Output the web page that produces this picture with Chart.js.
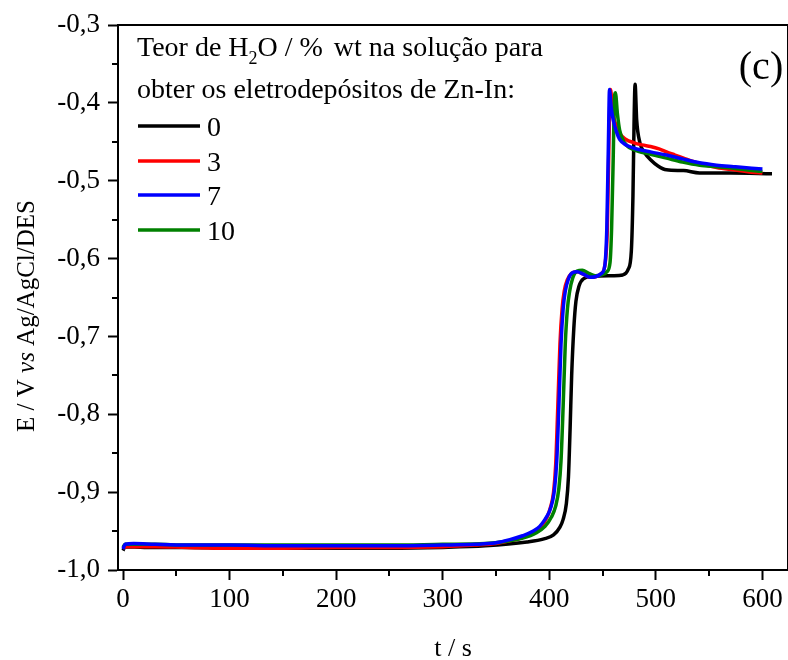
<!DOCTYPE html>
<html>
<head>
<meta charset="utf-8">
<script src="https://cdn.jsdelivr.net/npm/chart.js@4"></script>
<style>
  html, body { margin: 0; padding: 0; background: #fff; }
  #wrap { width: 788px; height: 660px; }
</style>
</head>
<body>
<div id="wrap"><canvas id="grafica" width="788" height="660"></canvas></div>
<script>
// series: teor de H2O (% wt)
const rotulos = ["0", "3", "7", "10"];
const cores = ["#000000", "#ff0000", "#0000ff", "#008000"];

const t0 = [0, 2, 20, 60, 100, 150, 200, 250, 300, 340, 379, 395, 404, 410, 413, 416, 418, 419.5, 421, 423, 425, 428, 432, 441, 460, 469, 474, 477, 478.5, 479.5, 480.5, 482, 485, 490, 495, 502, 510, 526, 541, 570, 609];
const e0 = [-0.975, -0.970, -0.971, -0.971, -0.972, -0.972, -0.972, -0.972, -0.971, -0.969, -0.964, -0.960, -0.955, -0.945, -0.935, -0.915, -0.880, -0.820, -0.750, -0.690, -0.655, -0.635, -0.626, -0.623, -0.622, -0.621, -0.614, -0.590, -0.520, -0.430, -0.376, -0.422, -0.451, -0.465, -0.473, -0.481, -0.486, -0.487, -0.490, -0.490, -0.491];

const t3 = [0, 3, 30, 60, 100, 150, 200, 250, 300, 330, 350, 365, 377, 387, 393, 398, 401, 404, 406, 408, 410, 412, 414, 417, 421, 426, 432, 438, 444, 449, 452, 454.5, 456, 457.5, 459, 461, 466, 472, 479, 487, 495, 503, 510, 518, 526, 534, 541, 557, 573, 590, 600];
const e3 = [-0.972, -0.970, -0.970, -0.971, -0.972, -0.972, -0.971, -0.971, -0.970, -0.968, -0.966, -0.962, -0.957, -0.950, -0.943, -0.932, -0.920, -0.900, -0.865, -0.790, -0.710, -0.665, -0.642, -0.627, -0.619, -0.617, -0.620, -0.624, -0.623, -0.619, -0.610, -0.560, -0.450, -0.383, -0.405, -0.422, -0.439, -0.447, -0.451, -0.454, -0.456, -0.459, -0.463, -0.467, -0.471, -0.475, -0.478, -0.483, -0.486, -0.489, -0.490];

const t7 = [0, 2, 10, 30, 60, 100, 150, 200, 250, 300, 330, 350, 363, 375, 385, 391, 396, 400, 403, 405, 407, 409, 411, 413, 415, 418, 422, 426, 432, 438, 444, 449, 452, 454, 455.5, 456.5, 458, 460, 463, 466, 472, 479, 495, 510, 525, 541, 557, 573, 590, 600];
const e7 = [-0.973, -0.967, -0.966, -0.967, -0.968, -0.968, -0.969, -0.969, -0.969, -0.968, -0.967, -0.965, -0.961, -0.956, -0.950, -0.944, -0.935, -0.925, -0.912, -0.895, -0.860, -0.790, -0.710, -0.665, -0.642, -0.626, -0.618, -0.617, -0.620, -0.624, -0.623, -0.619, -0.610, -0.560, -0.450, -0.383, -0.405, -0.422, -0.437, -0.447, -0.454, -0.458, -0.463, -0.467, -0.472, -0.477, -0.480, -0.482, -0.484, -0.485];

const t10 = [0, 2, 30, 60, 100, 150, 200, 250, 300, 340, 360, 375, 388, 396, 402, 406, 409, 411, 413, 415, 417, 419, 422, 426, 431, 437, 443, 449, 454, 457, 458.5, 460, 461, 462, 464, 466, 470, 479, 495, 510, 525, 541, 557, 573, 590, 600];
const e10 = [-0.971, -0.967, -0.967, -0.968, -0.968, -0.968, -0.968, -0.968, -0.967, -0.966, -0.963, -0.959, -0.952, -0.944, -0.932, -0.918, -0.895, -0.860, -0.790, -0.710, -0.665, -0.643, -0.625, -0.616, -0.615, -0.619, -0.622, -0.621, -0.617, -0.605, -0.560, -0.470, -0.400, -0.387, -0.415, -0.435, -0.450, -0.460, -0.466, -0.471, -0.476, -0.480, -0.482, -0.484, -0.487, -0.488];

const tempos = [t0, t3, t7, t10];
const potenciais = [e0, e3, e7, e10];

// ticks
const ticksX = [0, 100, 200, 300, 400, 500, 600];
const menoresX = [50, 150, 250, 350, 450, 550];
const menoresY = [-0.95, -0.85, -0.75, -0.65, -0.55, -0.45, -0.35];

const fonte = "'Liberation Serif', 'Times New Roman', serif";
const ordemDesenho = [3, 2, 0, 1]; // azul por cima

const datasets = rotulos.map((r, i) => ({
  label: r,
  data: tempos[i].map((t, j) => ({ x: t, y: potenciais[i][j] })),
  borderColor: cores[i],
  backgroundColor: cores[i],
  borderWidth: 3.5,
  pointRadius: 0,
  cubicInterpolationMode: "monotone",
  order: ordemDesenho[i]
}));

// moldura, ticks menores, titulos e legenda
const extras = {
  id: "extras",
  afterDraw(chart) {
    const { ctx, chartArea: a, scales: { x, y } } = chart;
    ctx.save();
    ctx.strokeStyle = "#000";
    ctx.lineWidth = 2;
    ctx.beginPath();
    ctx.moveTo(a.left, a.top);
    ctx.lineTo(a.right, a.top);
    ctx.lineTo(a.right, a.bottom);
    menoresX.forEach(v => {
      const px = Math.round(x.getPixelForValue(v));
      ctx.moveTo(px, a.bottom);
      ctx.lineTo(px, a.bottom + 6);
    });
    menoresY.forEach(v => {
      const py = Math.round(y.getPixelForValue(v));
      ctx.moveTo(a.left, py);
      ctx.lineTo(a.left - 6, py);
    });
    ctx.stroke();

    ctx.fillStyle = "#000";
    ctx.textBaseline = "alphabetic";

    // titulo eixo x
    ctx.font = "26px " + fonte;
    ctx.textAlign = "center";
    ctx.fillText("t / s", (a.left + a.right) / 2, 656);

    // titulo eixo y com "vs" em italico
    const partes = [["E / V ", "25px "], ["vs", "italic 25px "], [" Ag/AgCl/DES", "25px "]];
    let total = 0;
    partes.forEach(p => { ctx.font = p[1] + fonte; total += ctx.measureText(p[0]).width; });
    ctx.save();
    ctx.translate(34, 316);
    ctx.rotate(-Math.PI / 2);
    ctx.textAlign = "left";
    let cx = -total / 2;
    partes.forEach(p => {
      ctx.font = p[1] + fonte;
      ctx.fillText(p[0], cx, 0);
      cx += ctx.measureText(p[0]).width;
    });
    ctx.restore();

    // (c)
    ctx.font = "40px " + fonte;
    ctx.textAlign = "center";
    ctx.fillText("(c)", 761, 79);

    // legenda
    ctx.textAlign = "left";
    ctx.font = "28px " + fonte;
    let lx = 137;
    ctx.fillText("Teor de H", lx, 56);
    lx += ctx.measureText("Teor de H").width;
    ctx.font = "18px " + fonte;
    ctx.fillText("2", lx, 64);
    lx += ctx.measureText("2").width;
    ctx.font = "28px " + fonte;
    ctx.fillText("O / %", lx, 56);
    lx += ctx.measureText("O / %").width + 11;
    ctx.fillText("wt na solução para", lx, 56);
    ctx.fillText("obter os eletrodepósitos de Zn-In:", 137, 98);

    const linhasY = [126, 161, 195, 230];
    chart.data.datasets.forEach((ds, i) => {
      ctx.strokeStyle = ds.borderColor;
      ctx.lineWidth = 3.5;
      ctx.beginPath();
      ctx.moveTo(138, linhasY[i]);
      ctx.lineTo(200, linhasY[i]);
      ctx.stroke();
      ctx.fillStyle = "#000";
      ctx.fillText(ds.label, 207, linhasY[i] + 10);
    });
    ctx.restore();
  }
};

const grafica = new Chart(document.getElementById("grafica"), {
  type: "line",
  data: { datasets },
  options: {
    responsive: false,
    animation: false,
    layout: { padding: { top: 25, right: 0, bottom: 0, left: 0 } },
    plugins: { legend: { display: false }, tooltip: { enabled: false } },
    scales: {
      x: {
        type: "linear",
        min: -4.7,
        max: 624,
        afterBuildTicks: s => { s.ticks = ticksX.map(v => ({ value: v })); },
        afterFit: s => { s.height = 90; },
        border: { color: "#000", width: 2 },
        grid: { drawOnChartArea: false, tickLength: 10, tickWidth: 2, tickColor: "#000" },
        ticks: { color: "#000", padding: 4, maxRotation: 0, font: { family: fonte, size: 27 } }
      },
      y: {
        min: -1.0,
        max: -0.3,
        afterFit: s => { s.width = 118; },
        border: { color: "#000", width: 2 },
        grid: { drawOnChartArea: false, tickLength: 10, tickWidth: 2, tickColor: "#000" },
        ticks: {
          stepSize: 0.1,
          color: "#000",
          padding: 8,
          font: { family: fonte, size: 27 },
          callback: v => Number(v).toFixed(1).replace(".", ",")
        }
      }
    }
  },
  plugins: [extras]
});
</script>
</body>
</html>
